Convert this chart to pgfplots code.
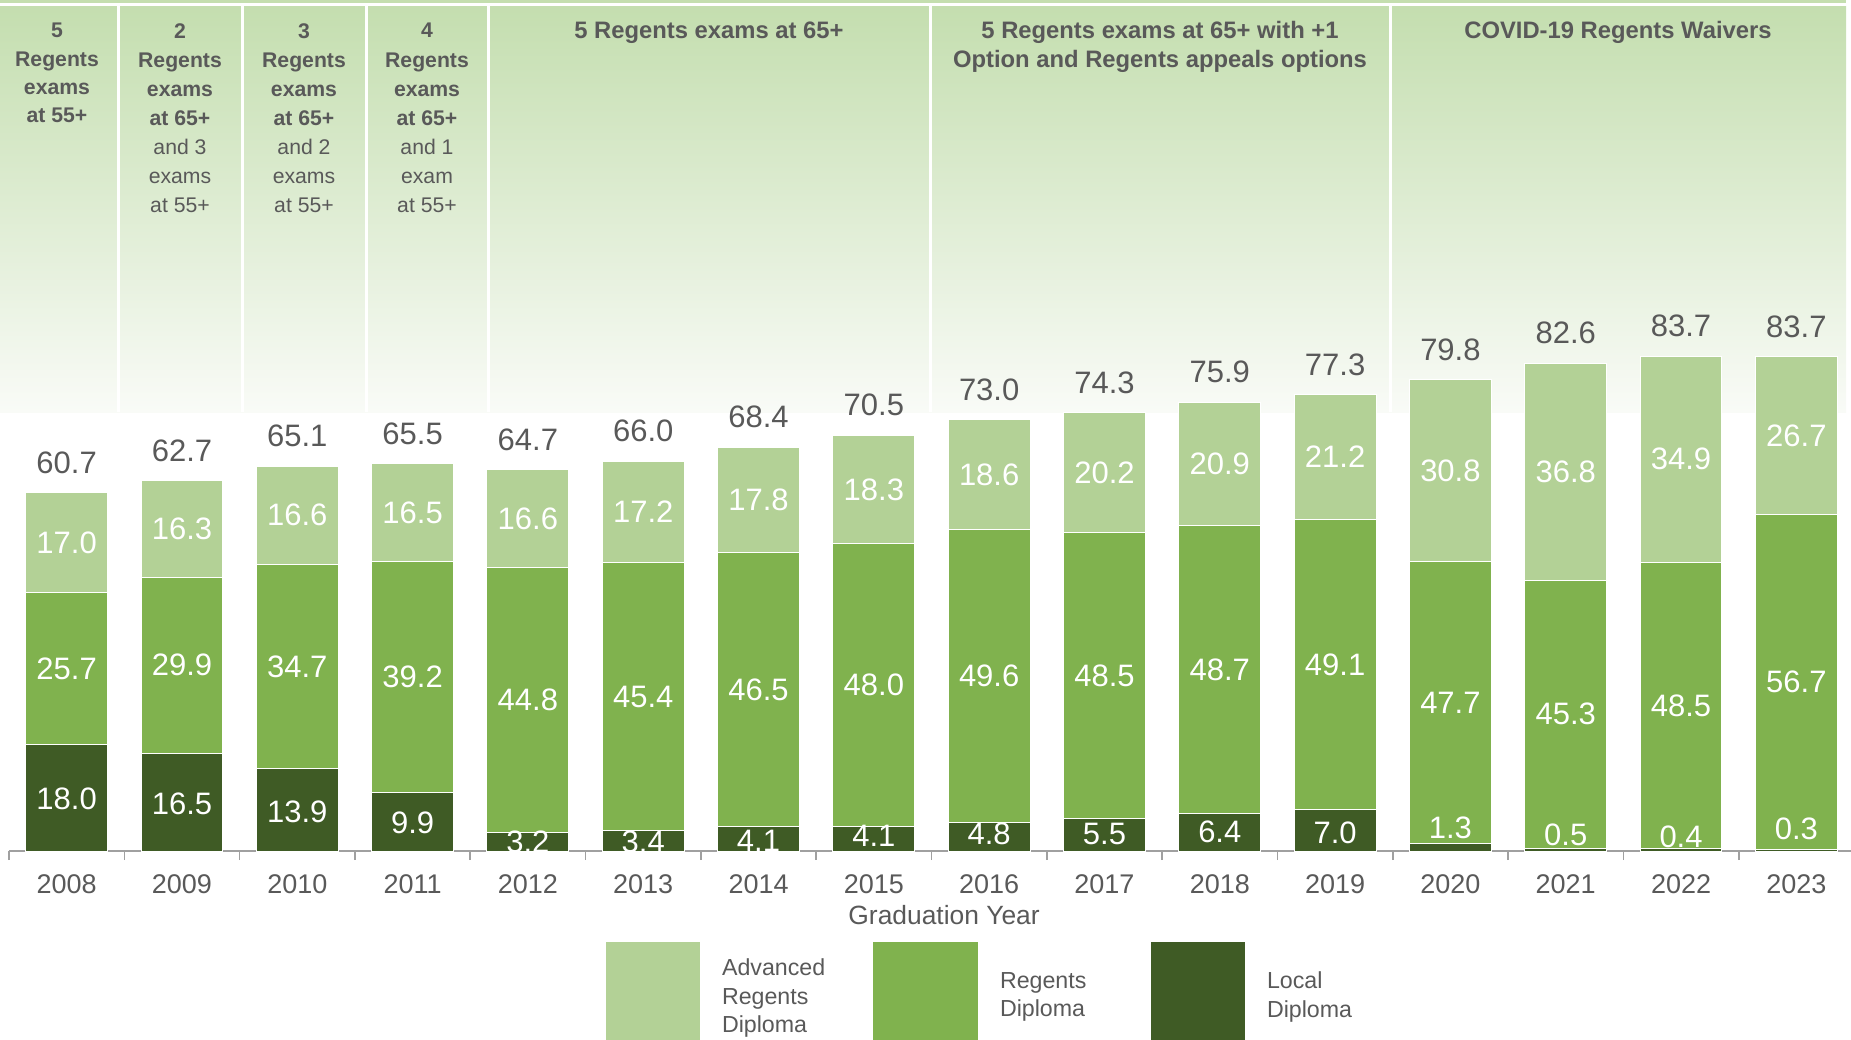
\documentclass[border=0pt]{standalone}
\usepackage{fontspec}
\setmainfont{Liberation Sans}
\usepackage{pgfplots}
\usepackage{pgfplotstable}
\pgfplotsset{compat=1.18}
\definecolor{advc}{RGB}{179,209,150}
\definecolor{regc}{RGB}{128,178,78}
\definecolor{locc}{RGB}{63,91,37}
\definecolor{txtgray}{RGB}{89,89,89}
\definecolor{axgray}{RGB}{160,160,160}
\definecolor{hdrtop}{RGB}{196,222,175}
\definecolor{hdrbot}{RGB}{249,251,247}
\newcommand{\lblfont}{\fontsize{15.5pt}{18pt}\selectfont}
\newcommand{\tickfont}{\fontsize{13.5pt}{16pt}\selectfont}
\newcommand{\legfont}{\fontsize{11.6pt}{14.2pt}\selectfont}
\newcommand{\hone}{\fontsize{10.6pt}{14.1pt}\selectfont}
\newcommand{\hsmall}{\fontsize{10.6pt}{14.55pt}\selectfont}
\newcommand{\hbig}{\fontsize{11.9pt}{14.2pt}\selectfont}

\pgfplotstableread{
i year loc reg adv tot locy
0 2008 18.0 25.7 17.0 60.7 8.8
1 2009 16.5 29.9 16.3 62.7 8.0
2 2010 13.9 34.7 16.6 65.1 6.6
3 2011 9.9 39.2 16.5 65.5 4.8
4 2012 3.2 44.8 16.6 64.7 1.57
5 2013 3.4 45.4 17.2 66.0 1.6
6 2014 4.1 46.5 17.8 68.4 1.8
7 2015 4.1 48.0 18.3 70.5 2.6
8 2016 4.8 49.6 18.6 73.0 2.9
9 2017 5.5 48.5 20.2 74.3 2.9
10 2018 6.4 48.7 20.9 75.9 3.3
11 2019 7.0 49.1 21.2 77.3 3.1
12 2020 1.3 47.7 30.8 79.8 3.9
13 2021 0.5 45.3 36.8 82.6 2.7
14 2022 0.4 48.5 34.9 83.7 2.4
15 2023 0.3 56.7 26.7 83.7 3.8
}\datatable

\begin{document}
\begin{tikzpicture}
\useasboundingbox (0pt,0pt) rectangle (925.5pt,-519.5pt);
\begin{scope}[x=0.5pt,y=-0.5pt]
  \fill[hdrtop] (0,0) rectangle (1846,3);
  \shade[top color=hdrtop, bottom color=hdrbot] (0,6) rectangle (1846,412);
  \foreach \xx in {118,242,366,488,930,1390} {
    \fill[white] ({\xx-1.5},6) rectangle ({\xx+1.5},412);
  }
  \node[anchor=north, align=center, inner sep=0pt, text=txtgray, font=\hone\bfseries] at (57,23)
    {5\\Regents\\exams\\at 55+};
  \node[anchor=north, align=center, inner sep=0pt, text=txtgray, font=\hsmall] at (180,23)
    {\textbf{2}\\\textbf{Regents}\\\textbf{exams}\\\textbf{at 65+}\\and 3\\exams\\at 55+};
  \node[anchor=north, align=center, inner sep=0pt, text=txtgray, font=\hsmall] at (304,23)
    {\textbf{3}\\\textbf{Regents}\\\textbf{exams}\\\textbf{at 65+}\\and 2\\exams\\at 55+};
  \node[anchor=north, align=center, inner sep=0pt, text=txtgray, font=\hsmall] at (427,23)
    {\textbf{4}\\\textbf{Regents}\\\textbf{exams}\\\textbf{at 65+}\\and 1\\exam\\at 55+};
  \node[anchor=north, align=center, inner sep=0pt, text=txtgray, font=\hbig\bfseries] at (709,21)
    {5 Regents exams at 65+};
  \node[anchor=north, align=center, inner sep=0pt, text=txtgray, font=\hbig\bfseries] at (1160,21)
    {5 Regents exams at 65+ with +1\\Option and Regents appeals options};
  \node[anchor=north, align=center, inner sep=0pt, text=txtgray, font=\hbig\bfseries] at (1618,21)
    {COVID-19 Regents Waivers};
\end{scope}
\begin{axis}[
  at={(4.5pt,-425.5pt)}, anchor=south west,
  scale only axis, width=922.5pt, height=295.25pt,
  xmin=-0.5, xmax=15.5, ymin=0, ymax=100,
  axis y line=none, axis x line*=bottom,
  x axis line style={draw=axgray, line width=1pt},
  xtick={0,...,15},
  xticklabels={2008,2009,2010,2011,2012,2013,2014,2015,2016,2017,2018,2019,2020,2021,2022,2023},
  major tick length=0pt,
  minor xtick={-0.5,0.5,...,15.5},
  minor tick length=4.5pt,
  tick align=outside,
  every minor tick/.append style={draw=axgray, line width=0.8pt},
  xticklabel style={font=\tickfont, text=txtgray, inner sep=0pt, anchor=north, yshift=-11.7pt},
  xlabel={Graduation Year},
  xlabel style={at={(axis description cs:0.5068,-0.1084)}, anchor=center, font=\fontsize{13.2pt}{16pt}\selectfont, text=txtgray, inner sep=0pt},
  ytick=\empty,
  /pgf/number format/assume math mode=true,
  bar width=0.71,
  legend columns=3, legend cell align=left,
  legend style={at={(axis description cs:0.3236,-0.1536)}, anchor=north west,
    draw=none, fill=none, inner sep=0pt, outer sep=0pt, font=\legfont, text=txtgray,
    nodes={inner sep=0pt, text width=60pt, align=left},
    /tikz/every odd column/.append style={column sep=11pt},
    /tikz/every even column/.append style={column sep=15.5pt}},
]
\addplot[ybar, bar shift=0pt, fill=advc, draw=white, line width=0.5pt,
  legend image code/.code={\fill[advc] (0pt,-45pt) rectangle (46.5pt,13.3pt);}]
  table[x=i, y expr=\thisrow{loc}+\thisrow{reg}+\thisrow{adv}] {\datatable};
\addlegendentry{Advanced\\Regents\\Diploma}
\addplot[ybar, bar shift=0pt, fill=regc, draw=white, line width=0.5pt,
  legend image code/.code={\fill[regc] (0pt,-45pt) rectangle (52pt,13.3pt);}]
  table[x=i, y expr=\thisrow{loc}+\thisrow{reg}] {\datatable};
\addlegendentry[yshift=-6.5pt]{Regents\\Diploma}
\addplot[ybar, bar shift=0pt, fill=locc, draw=white, line width=0.5pt,
  legend image code/.code={\fill[locc] (0pt,-45pt) rectangle (46.5pt,13.3pt);}]
  table[x=i, y=loc] {\datatable};
\addlegendentry[yshift=-6.5pt]{Local\\Diploma}
% segment labels
\addplot[forget plot, draw=none, point meta=explicit,
  nodes near coords={\pgfmathprintnumber[fixed,fixed zerofill,precision=1]{\pgfplotspointmeta}},
  every node near coord/.append style={anchor=center, inner sep=0pt, text=white, font=\lblfont}]
  table[x=i, y=locy, meta=loc] {\datatable};
\addplot[forget plot, draw=none, point meta=explicit,
  nodes near coords={\pgfmathprintnumber[fixed,fixed zerofill,precision=1]{\pgfplotspointmeta}},
  every node near coord/.append style={anchor=center, inner sep=0pt, text=white, font=\lblfont}]
  table[x=i, y expr=\thisrow{loc}+\thisrow{reg}/2, meta=reg] {\datatable};
\addplot[forget plot, draw=none, point meta=explicit,
  nodes near coords={\pgfmathprintnumber[fixed,fixed zerofill,precision=1]{\pgfplotspointmeta}},
  every node near coord/.append style={anchor=center, inner sep=0pt, text=white, font=\lblfont}]
  table[x=i, y expr=\thisrow{loc}+\thisrow{reg}+\thisrow{adv}/2, meta=adv] {\datatable};
% totals
\addplot[forget plot, draw=none, point meta=explicit,
  nodes near coords={\pgfmathprintnumber[fixed,fixed zerofill,precision=1]{\pgfplotspointmeta}},
  every node near coord/.append style={anchor=center, inner sep=0pt, text=txtgray, font=\lblfont, yshift=15.1pt}]
  table[x=i, y expr=\thisrow{loc}+\thisrow{reg}+\thisrow{adv}, meta=tot] {\datatable};
\end{axis}
\end{tikzpicture}
\end{document}
